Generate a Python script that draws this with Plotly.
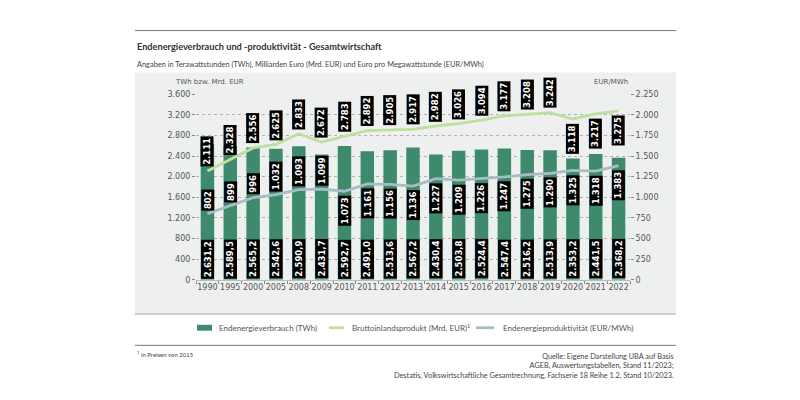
import plotly.graph_objects as go

# ---------------- data ----------------
years = ["1990", "1995", "2000", "2005", "2008", "2009", "2010", "2011", "2012", "2013",
         "2014", "2015", "2016", "2017", "2018", "2019", "2020", "2021", "2022"]
energy_twh = [2631.2, 2589.5, 2565.2, 2542.6, 2590.9, 2431.7, 2592.7, 2491.0, 2513.6, 2567.2,
              2430.4, 2503.8, 2524.4, 2547.4, 2516.2, 2513.9, 2353.2, 2441.5, 2368.2]
gdp_bn_eur = [2111, 2328, 2556, 2625, 2833, 2672, 2783, 2892, 2905, 2917,
              2982, 3026, 3094, 3177, 3208, 3242, 3118, 3217, 3275]
productivity = [802, 899, 996, 1032, 1093, 1099, 1073, 1161, 1156, 1136,
                1227, 1209, 1226, 1247, 1275, 1290, 1325, 1318, 1383]
left_ticks = [0, 400, 800, 1200, 1600, 2000, 2400, 2800, 3200, 3600]
right_ticks = [0, 250, 500, 750, 1000, 1250, 1500, 1750, 2000, 2250]
series_names = ["Endenergieverbrauch (TWh)",
                "Bruttoinlandsprodukt (Mrd. EUR)<sup>1</sup>",
                "Endenergieproduktivität (EUR/MWh)"]
# label placement relative to line (above / below)
gdp_label_side = ["above"] * 16 + ["below"] * 3
prod_label_side = ["above"] * 6 + ["below"] * 13

# ---------------- styles ----------------
W, H = 800, 400
BAR_COLOR = "#3e8a6c"
GDP_COLOR = "#bde09c"
PROD_COLOR = "#a9bcc5"
TEXT_FONT = "Lato"
AXIS_FONT = "DejaVu Sans"


def px(x):
    return x / W


def py(y):
    return 1 - y / H


def de(v, dec):
    s = f"{v:,.{dec}f}"
    return s.replace(",", "X").replace(".", ",").replace("X", ".")


fig = go.Figure()
fig.add_trace(go.Bar(
    x=years, y=energy_twh, name=series_names[0],
    marker=dict(color=BAR_COLOR, line=dict(width=0)), width=0.59,
    hoverinfo="skip",
))
fig.add_trace(go.Scatter(
    x=years, y=gdp_bn_eur, name=series_names[1],
    mode="lines", line=dict(color=GDP_COLOR, width=2.8), hoverinfo="skip",
))
fig.add_trace(go.Scatter(
    x=years, y=productivity, name=series_names[2],
    mode="lines", line=dict(color=PROD_COLOR, width=2.8), yaxis="y2", hoverinfo="skip",
))

annotations = []
label_font = dict(family=AXIS_FONT, size=8.5, color="white", weight="bold")
for i, yr in enumerate(years):
    annotations.append(dict(
        x=i, y=0, xref="x", yref="y", text=de(energy_twh[i], 1),
        textangle=-90, yanchor="bottom", xanchor="center", yshift=1,
        showarrow=False, bgcolor="black", borderpad=1, font=label_font,
    ))
    above = gdp_label_side[i] == "above"
    annotations.append(dict(
        x=i, y=gdp_bn_eur[i], xref="x", yref="y", text=de(gdp_bn_eur[i], 0),
        textangle=-90, yanchor="bottom" if above else "top", xanchor="center",
        yshift=4 if above else -4,
        showarrow=False, bgcolor="black", borderpad=1, font=label_font,
    ))
    above = prod_label_side[i] == "above"
    annotations.append(dict(
        x=i, y=productivity[i], xref="x", yref="y2", text=de(productivity[i], 0),
        textangle=-90, yanchor="bottom" if above else "top", xanchor="center",
        yshift=3 if above else -4,
        showarrow=False, bgcolor="black", borderpad=1, font=label_font,
    ))

# titles and texts
annotations += [
    dict(x=px(127), y=py(35), xref="paper", yref="paper", xanchor="left", yanchor="middle",
         text="Endenergieverbrauch und -produktivität - Gesamtwirtschaft", showarrow=False,
         font=dict(family=TEXT_FONT, size=9.2, color="#333", weight="bold")),
    dict(x=px(127), y=py(54), xref="paper", yref="paper", xanchor="left", yanchor="middle",
         text="Angaben in Terawattstunden (TWh), Milliarden Euro (Mrd. EUR) und Euro pro Megawattstunde (EUR/MWh)",
         showarrow=False, font=dict(family=TEXT_FONT, size=7.4, color="#444")),
    dict(x=px(165), y=py(72), xref="paper", yref="paper", xanchor="left", yanchor="middle",
         text="TWh bzw. Mrd. EUR", showarrow=False,
         font=dict(family=AXIS_FONT, size=7, color="#555")),
    dict(x=px(622), y=py(72), xref="paper", yref="paper", xanchor="right", yanchor="middle",
         text="EUR/MWh", showarrow=False,
         font=dict(family=AXIS_FONT, size=7, color="#555")),
    dict(x=px(127), y=py(350), xref="paper", yref="paper", xanchor="left", yanchor="middle",
         text="<sup>1</sup> in Preisen von 2015", showarrow=False,
         font=dict(family=TEXT_FONT, size=6, color="#444")),
    dict(x=px(668), y=py(346), xref="paper", yref="paper", xanchor="right", yanchor="top",
         align="right",
         text="Quelle: Eigene Darstellung UBA auf Basis<br>AGEB, Auswertungstabellen, Stand 11/2023;<br>"
              "Destatis, Volkswirtschaftliche Gesamtrechnung, Fachserie 18 Reihe 1.2, Stand 10/2023.",
         showarrow=False, font=dict(family=TEXT_FONT, size=7.3, color="#444")),
]

# manual legend (symbols + texts)
legend_y = 323
legend_items = [
    (dict(type="rect", x0=px(189), x1=px(204), y0=py(legend_y + 3), y1=py(legend_y - 3),
          fillcolor=BAR_COLOR, line=dict(width=0)), 209),
    (dict(type="line", x0=px(321), x1=px(336), y0=py(legend_y), y1=py(legend_y),
          line=dict(color=GDP_COLOR, width=2.8)), 342),
    (dict(type="line", x0=px(468), x1=px(486), y0=py(legend_y), y1=py(legend_y),
          line=dict(color=PROD_COLOR, width=2.8)), 493),
]
shapes = [
    dict(type="rect", xref="paper", yref="paper", x0=px(127), x1=px(668), y0=py(309), y1=py(62),
         fillcolor="#eef0f0", line=dict(width=0), layer="below"),
    dict(type="line", xref="paper", yref="paper", x0=px(127), x1=px(668), y0=py(309), y1=py(309),
         line=dict(color="#a8a8a8", width=1)),
    dict(type="line", xref="paper", yref="paper", x0=px(127), x1=px(668), y0=py(19), y1=py(19),
         line=dict(color="#777", width=1)),
    dict(type="line", xref="paper", yref="paper", x0=px(127), x1=px(668), y0=py(341), y1=py(341),
         line=dict(color="#777", width=1)),
]
for (shp, tx), name in zip(legend_items, series_names):
    shp.update(xref="paper", yref="paper")
    shapes.append(shp)
    annotations.append(dict(
        x=px(tx), y=py(legend_y), xref="paper", yref="paper", xanchor="left", yanchor="middle",
        text=name, showarrow=False, font=dict(family=TEXT_FONT, size=8, color="#555")))

fig.update_layout(
    width=W, height=H, margin=dict(l=0, r=0, t=0, b=0),
    paper_bgcolor="white", plot_bgcolor="rgba(0,0,0,0)",
    separators=",.",
    showlegend=False,
    xaxis=dict(domain=[px(188), px(622)], type="category", range=[-0.5, len(years) - 0.5],
               tickson="boundaries", tickangle=0,
               ticks="outside", ticklen=3, tickcolor="#888", showgrid=False,
               showline=True, linecolor="#bbb", linewidth=1,
               tickfont=dict(family=AXIS_FONT, size=8, color="#555"), fixedrange=True),
    yaxis=dict(domain=[py(274), py(84)], range=[0, 3600], tickvals=left_ticks,
               separatethousands=True, tickformat=",d", showgrid=True, gridcolor="#b0b0b0",
               griddash="dot", gridwidth=1, zeroline=False, ticks="outside", ticklen=3,
               tickcolor="#888", tickfont=dict(family=AXIS_FONT, size=8, color="#555")),
    yaxis2=dict(overlaying="y", side="right", range=[0, 2250], tickvals=right_ticks,
                separatethousands=True, tickformat=",d", showgrid=False, zeroline=False,
                ticks="outside", ticklen=3, tickcolor="#888",
                tickfont=dict(family=AXIS_FONT, size=8, color="#555")),
    annotations=annotations,
    shapes=shapes,
)

fig.write_html("out.html")
